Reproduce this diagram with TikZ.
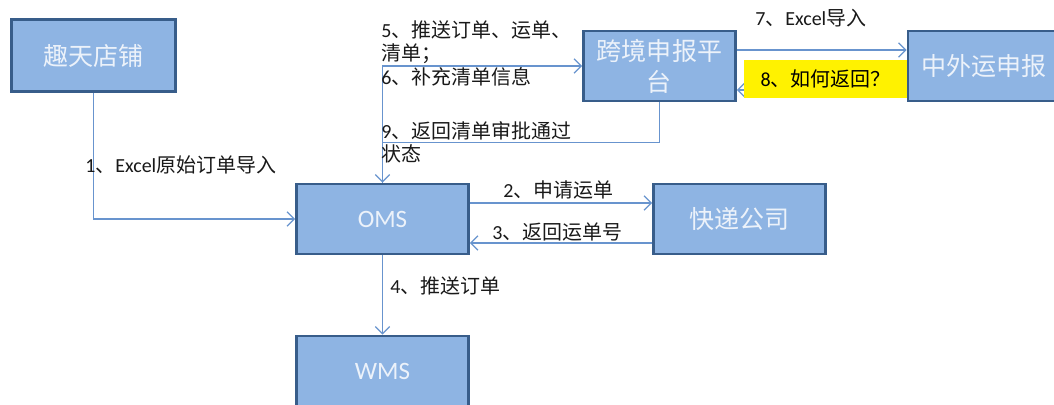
\documentclass[tikz,border=0pt]{standalone}
\usepackage{fontspec}
\setmainfont{Carlito}
\newfontfamily\cjk{Noto Sans CJK SC}
\usetikzlibrary{arrows.meta}
\definecolor{boxfill}{RGB}{142,180,227}
\definecolor{boxline}{RGB}{56,93,138}
\definecolor{boxtext}{RGB}{236,242,250}
\definecolor{wire}{RGB}{104,148,206}
\newcommand{\lat}[1]{{\rmfamily #1}}
\begin{document}
\begin{tikzpicture}[x=0.025cm, y=-0.025cm,
    sys/.style={rectangle, draw=boxline, line width=2pt, fill=boxfill, text=boxtext, minimum height=1.75cm, align=center, font=\cjk\fontsize{17.8}{22}\selectfont},
    lbl/.style={anchor=west, inner sep=0pt, align=left, text=black!90, font=\cjk\fontsize{14.2}{16.7}\selectfont},
    flow/.style={draw=wire, line width=0.9pt, -{Straight Barb[length=1.8mm,width=3.6mm]}}]
        \useasboundingbox (0,0) rectangle (1054,405);
        \node at (93.5,55.5) [sys, minimum width=4.1cm, minimum height=1.8cm] (shop) {趣天店铺};
        \node at (659.5,66) [sys, minimum width=3.8cm] (decl) {跨境申报平\\台};
        \node at (984,66) [sys, minimum width=3.8cm] (sino) {中外运申报};
        \node at (382.5,219) [sys, minimum width=4.3cm] (oms) {\lat{OMS}};
        \node at (739.5,219) [sys, minimum width=4.3cm] (express) {快递公司};
        \node at (382.5,371) [sys, minimum width=4.3cm] (wms) {\lat{WMS}};
        \draw[flow] (shop.south) |- (oms.west);
        \draw[flow] ([yshift=0.4cm]oms.east) -- ([yshift=0.4cm]express.west);
        \draw[flow] ([yshift=-0.6cm]express.west) -- ([yshift=-0.6cm]oms.east);
        \draw[flow] (oms.south) -- (wms.north);
        \draw[flow] (oms.north) |- (decl.west);
        \draw[flow] (decl.south) -- ++(0,40) -| (oms.north);
        \draw[flow] ([yshift=0.4cm]decl.east) -- ([yshift=0.4cm]sino.west);
        \draw[flow] ([yshift=-0.6cm]sino.west) -- ([yshift=-0.6cm]decl.east);
        \node at (825.5,79) [fill=yellow, minimum width=4.075cm, minimum height=0.95cm, inner sep=0pt, font=\cjk\fontsize{14.2}{17}\selectfont] (ask) {\lat{8}、如何返回？};
        \node at (85,165) [lbl] (t1) {\lat{1}、\lat{Excel}原始订单导入};
        \node at (503,190) [lbl] (t2) {\lat{2}、申请运单};
        \node at (492,232) [lbl] (t3) {\lat{3}、返回运单号};
        \node at (390,286) [lbl] (t4) {\lat{4}、推送订单};
        \node at (381,53) [lbl] (t5) {\lat{5}、推送订单、运单、\\清单；\\\lat{6}、补充清单信息};
        \node at (755,18) [lbl] (t7) {\lat{7}、\lat{Excel}导入};
        \node at (381,142.5) [lbl] (t9) {\lat{9}、返回清单审批通过\\状态};
\end{tikzpicture}
\end{document}
